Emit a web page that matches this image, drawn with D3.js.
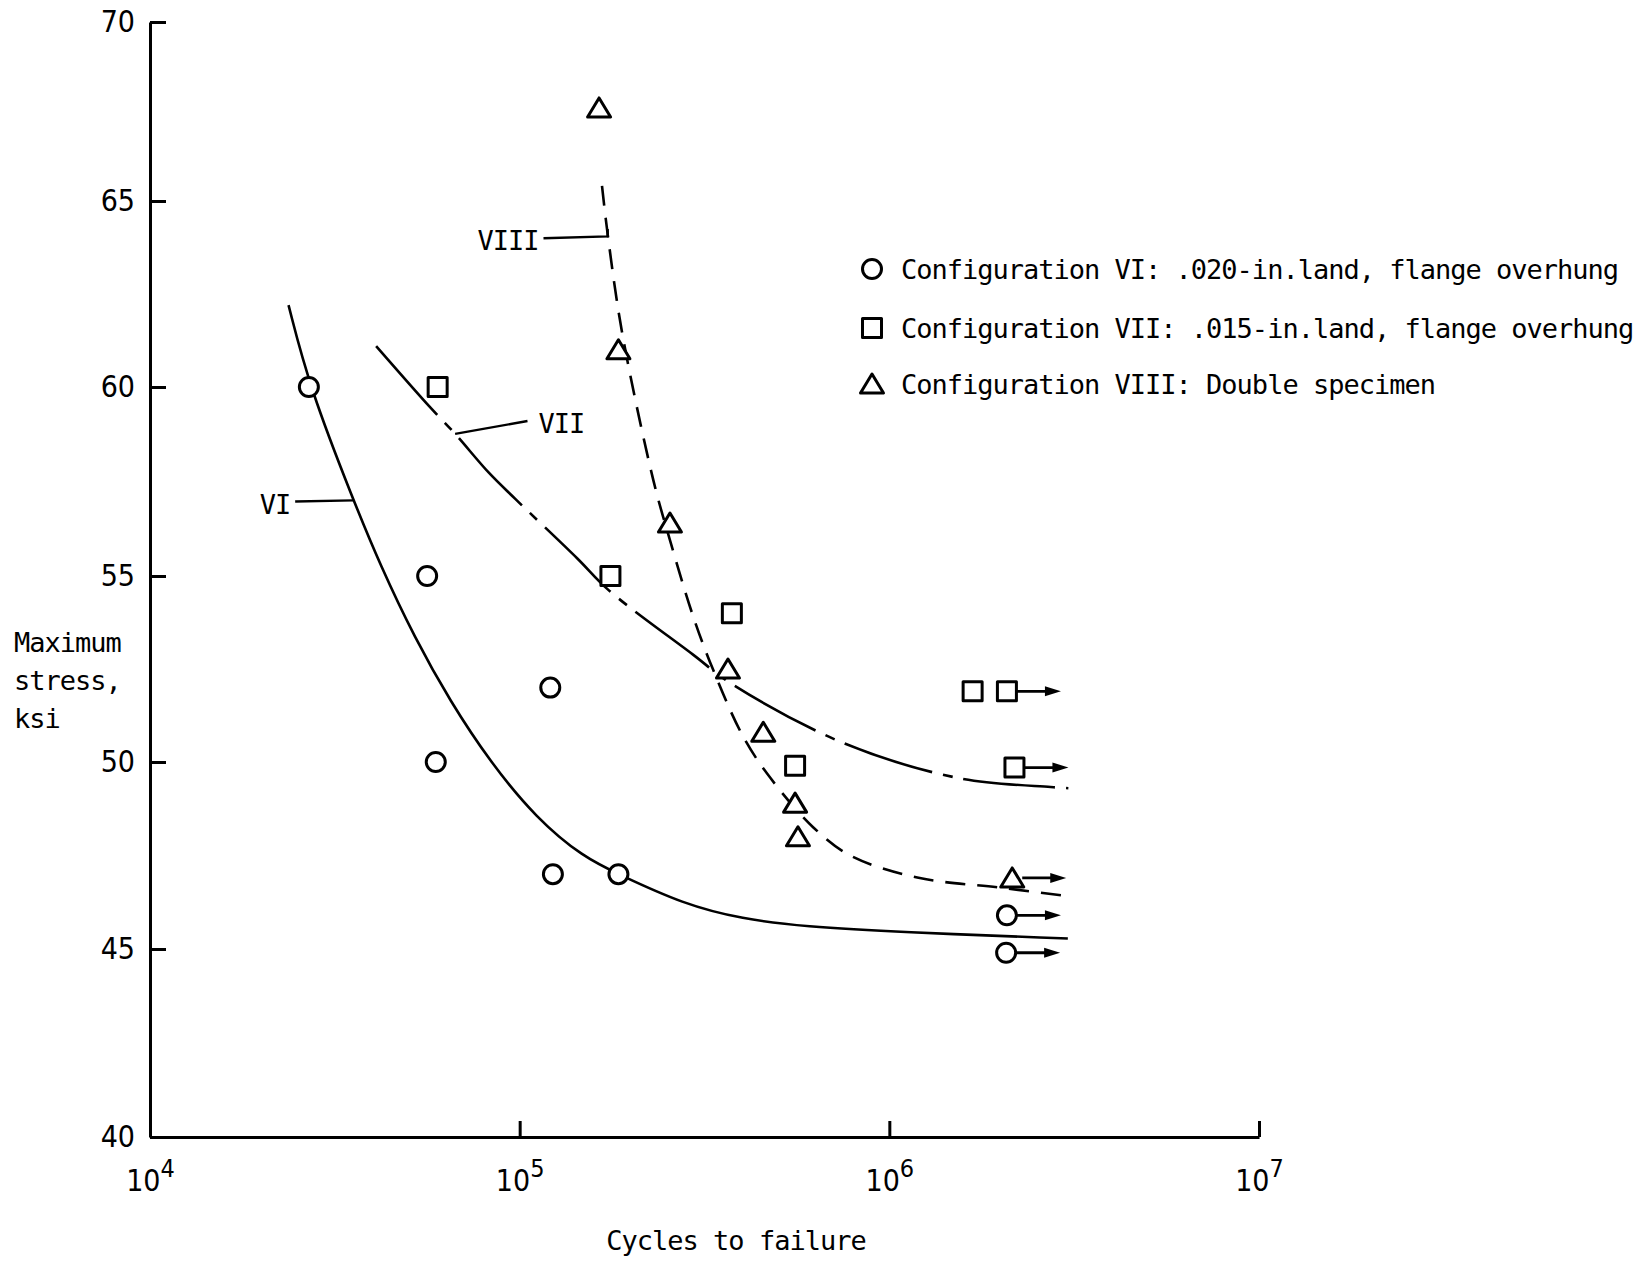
<!DOCTYPE html>
<html>
<head>
<meta charset="utf-8">
<script src="https://cdn.jsdelivr.net/npm/d3@7"></script>
<style>
  body { margin: 0; background: #fff; }
  .mono { font-family: "DejaVu Sans Mono", monospace; font-size: 27px; letter-spacing: -1px; fill: #000; }
  .tick text { font-family: "DejaVu Sans Condensed", "DejaVu Sans", sans-serif; font-stretch: condensed; font-size: 30px; fill: #000; }
</style>
</head>
<body>
<div id="chart"></div>
<script>
const width = 1646;
const height = 1262;

// ticks
const stressTicks = [40, 45, 50, 55, 60, 65, 70];
const cycleTicks = [1e4, 1e5, 1e6, 1e7];

// test points: cycles to failure, max stress (ksi), runout flag
const cyclesVI = [2.69e4, 5.62e4, 5.93e4, 1.21e5, 1.23e5, 1.85e5, 2.08e6, 2.07e6];
const stressVI = [60, 55, 50, 52, 47, 47, 45.9, 44.9];
const runoutVI = [0, 0, 0, 0, 0, 0, 1, 1];

const cyclesVII = [6.0e4, 1.76e5, 3.75e5, 5.56e5, 1.68e6, 2.08e6, 2.18e6];
const stressVII = [60, 55, 54, 49.9, 51.9, 51.9, 49.85];
const runoutVII = [0, 0, 0, 0, 0, 1, 1];

const cyclesVIII = [1.64e5, 1.85e5, 2.55e5, 3.66e5, 4.56e5, 5.56e5, 5.66e5, 2.15e6];
const stressVIII = [67.6, 61, 56.4, 52.5, 50.8, 48.9, 48, 46.9];
const runoutVIII = [0, 0, 0, 0, 0, 0, 0, 1];

// faired curves
const curveVI = [[2.37e4, 62.2], [2.70e4, 60], [3.55e4, 57.0], [4.19e4, 55.3], [5.21e4, 53.32],
  [6.49e4, 51.63], [8.32e4, 50.0], [1.11e5, 48.49], [1.49e5, 47.45], [1.85e5, 47.0],
  [2.77e5, 46.2], [4.0e5, 45.8], [5.89e5, 45.6], [1.06e6, 45.45], [3.04e6, 45.28]];
const curveVII = [[4.09e4, 61.1], [5.73e4, 59.46], [6.69e4, 58.76], [8.24e4, 57.74], [9.73e4, 57.04],
  [1.43e5, 55.47], [1.74e5, 54.62], [2.95e5, 52.88], [3.72e5, 52.12], [7.51e5, 50.51],
  [1.54e6, 49.57], [2.73e6, 49.33], [3.05e6, 49.3]];
const curveVIII = [[1.67e5, 65.42], [1.73e5, 64.11], [1.89e5, 61.5], [2.30e5, 57.53], [2.55e5, 55.95],
  [2.95e5, 53.9], [3.34e5, 52.47], [4.03e5, 50.67], [4.77e5, 49.57], [6.23e5, 48.25],
  [7.84e5, 47.5], [1.19e6, 46.91], [2.0e6, 46.64], [3.13e6, 46.4]];

const legendLabels = [
  "Configuration VI: .020-in.land, flange overhung",
  "Configuration VII: .015-in.land, flange overhung",
  "Configuration VIII: Double specimen"
];

const svg = d3.select("#chart")
  .append("svg")
  .attr("width", width)
  .attr("height", height)
  .style("background", "#fff");

const x = d3.scaleLog().domain([1e4, 1e7]).range([150, 1259]);
// scanned grid is slightly uneven, so break the scale at each tick
const y = d3.scaleLinear().domain(stressTicks).range([1137, 949, 762, 576, 387, 201, 22]);

// axes
svg.append("g")
  .attr("transform", `translate(${x(1e4)},0)`)
  .call(d3.axisLeft(y).tickValues(stressTicks).tickSizeInner(-16).tickSizeOuter(0).tickPadding(15).tickFormat(d3.format("d")));

const xAxis = svg.append("g")
  .attr("transform", `translate(0,${y(40)})`)
  .call(d3.axisBottom(x).tickValues(cycleTicks).tickSizeInner(-16).tickSizeOuter(0).tickFormat(""));

svg.selectAll(".domain").attr("stroke", "#000").attr("stroke-width", 3);
svg.selectAll(".tick line").attr("stroke", "#000").attr("stroke-width", 3);

xAxis.selectAll(".tick text").remove();
xAxis.selectAll(".tick")
  .append("text")
  .attr("y", 54)
  .attr("text-anchor", "middle")
  .each(function (d) {
    const t = d3.select(this);
    t.append("tspan").text("10");
    t.append("tspan").attr("dy", -14).style("font-size", "25px").text(Math.round(Math.log10(d)));
  });

// axis titles
svg.append("text").attr("class", "mono").attr("x", 736).attr("y", 1250)
  .attr("text-anchor", "middle").text("Cycles to failure");
["Maximum", "stress,", "ksi"].forEach((s, i) => {
  svg.append("text").attr("class", "mono").attr("x", 14).attr("y", 652 + i * 38).text(s);
});

// curves
const line = d3.line()
  .x((d) => x(d[0]))
  .y((d) => y(d[1]));

const curves = [
  { pts: curveVI, dash: null, kind: d3.curveBasis },
  { pts: curveVII, dash: "92,11,10,11", kind: d3.curveCatmullRom.alpha(0.5) },
  { pts: curveVIII, dash: "20,12", kind: d3.curveCatmullRom.alpha(0.5) }
];
svg.selectAll(".curve")
  .data(curves)
  .enter()
  .append("path")
  .attr("class", "curve")
  .attr("d", (d) => line.curve(d.kind)(d.pts))
  .attr("fill", "none")
  .attr("stroke", "#000")
  .attr("stroke-width", 2.6)
  .attr("stroke-dasharray", (d) => d.dash);

// curve labels with leader lines (leader points in data units)
const leaders = [
  { text: "VI", pts: [[2.47e4, 56.97], [3.55e4, 57.0]], anchor: "end" },
  { text: "VII", pts: [[6.69e4, 58.76], [1.05e5, 59.1]], anchor: "start" },
  { text: "VIII", pts: [[1.16e5, 64.0], [1.73e5, 64.05], [1.73e5, 64.25]], anchor: "end" }
];
const leaderLine = d3.line().x((d) => x(d[0])).y((d) => y(d[1]));
leaders.forEach((l) => {
  svg.append("path")
    .attr("d", leaderLine(l.pts))
    .attr("fill", "none")
    .attr("stroke", "#000")
    .attr("stroke-width", 2.4);
  const p = l.anchor === "end" ? l.pts[0] : l.pts[l.pts.length - 1];
  svg.append("text")
    .attr("class", "mono")
    .attr("x", x(p[0]) + (l.anchor === "end" ? -5 : 11))
    .attr("y", y(p[1]) + 12)
    .attr("text-anchor", l.anchor)
    .text(l.text);
});

// markers
function drawMarker(g, shape) {
  if (shape === "circle") {
    g.append("circle").attr("r", 9.5);
  } else if (shape === "square") {
    g.append("rect").attr("x", -9.5).attr("y", -9.5).attr("width", 19).attr("height", 19);
  } else {
    g.append("path").attr("d", "M0,-10 L11.5,9 L-11.5,9 Z");
  }
  g.selectAll("circle,rect,path")
    .attr("fill", "#fff")
    .attr("stroke", "#000")
    .attr("stroke-width", 3)
    .attr("stroke-linejoin", "round");
}

const series = [
  { shape: "circle", n: cyclesVI, s: stressVI, r: runoutVI },
  { shape: "square", n: cyclesVII, s: stressVII, r: runoutVII },
  { shape: "triangle", n: cyclesVIII, s: stressVIII, r: runoutVIII }
];

series.forEach((ser) => {
  ser.n.forEach((n, i) => {
    const px = x(n);
    const py = y(ser.s[i]);
    if (ser.r[i]) {
      // runout arrow
      svg.append("line")
        .attr("x1", px + 10).attr("x2", px + 42)
        .attr("y1", py).attr("y2", py)
        .attr("stroke", "#000").attr("stroke-width", 2.8);
      svg.append("path")
        .attr("d", `M${px + 38},${py - 5} L${px + 54},${py} L${px + 38},${py + 5} Z`)
        .attr("fill", "#000");
    }
    const g = svg.append("g").attr("transform", `translate(${px},${py})`);
    drawMarker(g, ser.shape);
  });
});

// legend
const legend = svg.append("g");
const legendY = [269, 328, 384];
legendLabels.forEach((label, i) => {
  const g = legend.append("g").attr("transform", `translate(872,${legendY[i]})`);
  drawMarker(g, series[i].shape);
  legend.append("text")
    .attr("class", "mono")
    .attr("x", 901)
    .attr("y", legendY[i] + 10)
    .text(label);
});
</script>
</body>
</html>
